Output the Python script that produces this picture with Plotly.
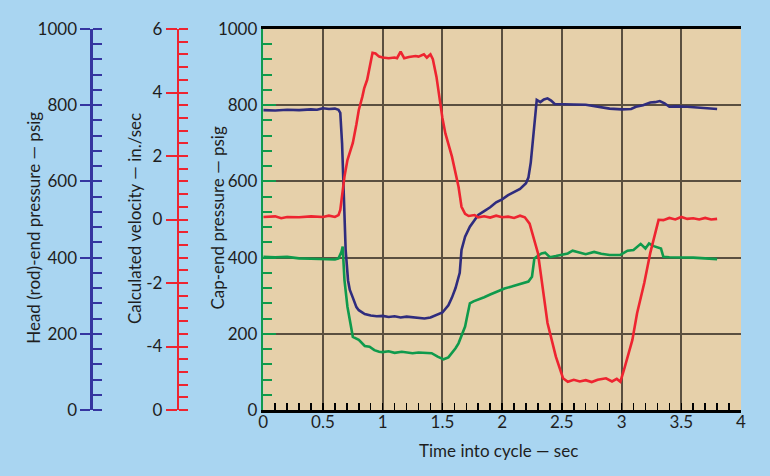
import plotly.graph_objects as go

# ---------------- data ----------------
head_t = [0, 0.1, 0.2, 0.3, 0.4, 0.45, 0.5, 0.55, 0.6, 0.63, 0.645, 0.66, 0.675, 0.69, 0.71,
          0.725, 0.75, 0.78, 0.8, 0.85, 0.9, 0.95, 1.0, 1.05, 1.1, 1.15, 1.2, 1.25, 1.3, 1.35,
          1.4, 1.45, 1.5, 1.55, 1.58, 1.61, 1.63, 1.645, 1.66, 1.69, 1.73, 1.76, 1.8, 1.85, 1.9,
          1.95, 2.0, 2.05, 2.1, 2.15, 2.2, 2.22, 2.24, 2.26, 2.28, 2.29, 2.32, 2.35, 2.38, 2.41,
          2.44, 2.5, 2.6, 2.7, 2.8, 2.9, 3.0, 3.08, 3.12, 3.18, 3.24, 3.28, 3.32, 3.36, 3.4,
          3.45, 3.55, 3.65, 3.75, 3.8]
head_p = [787, 786, 788, 787, 789, 788, 792, 790, 791, 788, 780, 700, 560, 420, 340,
          315, 295, 270, 262, 252, 248, 246, 247, 244, 246, 243, 245, 243, 241, 240,
          243, 250, 256, 275, 295, 320, 345, 360, 420, 455, 481, 495, 512, 522, 532,
          545, 553, 564, 572, 580, 595, 610, 650, 720, 790, 814, 808, 815, 818, 812,
          803, 803, 802, 801, 796, 791, 789, 790, 796, 800, 807, 808, 811, 805, 796,
          797, 796, 794, 791, 790]

vel_t = [0, 0.1, 0.15, 0.2, 0.3, 0.4, 0.5, 0.55, 0.6, 0.63, 0.645, 0.66, 0.68, 0.705, 0.75,
         0.78, 0.8, 0.83, 0.845, 0.87, 0.9, 0.915, 0.94, 0.97, 1.0, 1.05, 1.1, 1.12, 1.15, 1.18,
         1.22, 1.275, 1.3, 1.345, 1.37, 1.4, 1.42, 1.45, 1.5, 1.525, 1.58, 1.635, 1.66, 1.69,
         1.72, 1.77, 1.8, 1.85, 1.9, 1.95, 2.0, 2.05, 2.1, 2.15, 2.19, 2.23, 2.3, 2.38, 2.45,
         2.51, 2.55, 2.6, 2.65, 2.7, 2.75, 2.8, 2.87, 2.92, 2.96, 2.99, 3.02, 3.09, 3.13, 3.19,
         3.24, 3.31, 3.35, 3.4, 3.45, 3.5, 3.55, 3.6, 3.65, 3.7, 3.75, 3.8]
vel_v = [0.08, 0.1, 0.04, 0.08, 0.07, 0.1, 0.08, 0.12, 0.08, 0.14, 0.3, 0.84, 1.35, 1.87, 2.41,
         3.0, 3.45, 3.87, 4.13, 4.4, 4.9, 5.25, 5.23, 5.13, 5.1, 5.08, 5.1, 5.08, 5.29, 5.08,
         5.12, 5.15, 5.13, 5.2, 5.1, 5.2, 5.05, 4.5, 3.2, 2.71, 1.98, 1.03, 0.4, 0.18,
         0.11, 0.14, 0.07, 0.1, 0.06, 0.12, 0.07, 0.09, 0.05, 0.12, 0.07, -0.13, -1.06, -3.26, -4.32,
         -5.0, -5.11, -5.05, -5.1, -5.06, -5.12, -5.05, -5.0, -5.1, -5.02, -5.11, -4.74, -3.8, -2.95, -2.0,
         -1.06, -0.01, -0.02, 0.05, 0.0, 0.08, 0.02, 0.04, 0.0, 0.05, 0.0, 0.02]

cap_t = [0, 0.1, 0.2, 0.3, 0.4, 0.5, 0.6, 0.63, 0.655, 0.665, 0.68, 0.705, 0.73, 0.75, 0.8,
         0.85, 0.89, 0.93, 0.97, 1.0, 1.05, 1.1, 1.16, 1.2, 1.25, 1.3, 1.35, 1.41, 1.46, 1.51,
         1.55, 1.58, 1.61, 1.635, 1.66, 1.69, 1.71, 1.73, 1.76, 1.8, 1.85, 1.9, 1.95, 2.02, 2.08,
         2.14, 2.22, 2.25, 2.27, 2.3, 2.33, 2.36, 2.4, 2.45, 2.5, 2.55, 2.59, 2.65, 2.7, 2.77,
         2.83, 2.9, 2.99, 3.05, 3.1, 3.16, 3.2, 3.23, 3.27, 3.33, 3.35, 3.4, 3.49, 3.6, 3.7, 3.8]
cap_p = [402, 401, 402, 398, 397, 396, 395, 398, 415, 429, 341, 271, 225, 192, 184,
         168, 166, 157, 153, 152, 154, 150, 153, 151, 149, 151, 150, 149, 140, 133,
         138, 149, 162, 175, 195, 219, 250, 280, 285, 289, 296, 303, 310, 319, 324,
         330, 337, 350, 398, 405, 411, 413, 401, 404, 408, 411, 418, 413, 409, 415,
         410, 407, 407, 418, 420, 436, 424, 437, 430, 424, 402, 401, 401, 400, 398, 396]

x_ticks = [0, 0.5, 1, 1.5, 2, 2.5, 3, 3.5, 4]
x_labels = ["0", "0.5", "1", "1.5", "2", "2.5", "3", "3.5", "4"]
p_ticks = [0, 200, 400, 600, 800, 1000]
v_ticks = [-6, -4, -2, 0, 2, 4, 6]
v_labels = ["0", "-4", "-2", "0", "2", "4", "6"]

# ---------------- style ----------------
BG = "#a9d5f1"
PLOT = "#e6d0aa"
BLUE = "#2f2c7e"
BLUE_AX = "#3535a0"
RED = "#ee2430"
GREEN = "#0f9a4c"
GRID = "#5a4f40"
TXT = "#1e1e1e"
FONT = "Lato"
FS = 17

W, H = 770, 476
ML, MR, MT, MB = 0, 29, 29, 66
PW = W - ML - MR
x0_px = 260
head_px = 87
vel_px = 174

fig = go.Figure()
fig.add_trace(go.Scatter(x=cap_t, y=cap_p, mode="lines", yaxis="y",
                         line=dict(color=GREEN, width=2.6), name="Cap-end"))
fig.add_trace(go.Scatter(x=head_t, y=head_p, mode="lines", yaxis="y2",
                         line=dict(color=BLUE, width=2.6), name="Head-end"))
fig.add_trace(go.Scatter(x=vel_t, y=vel_v, mode="lines", yaxis="y4",
                         line=dict(color=RED, width=2.6), name="Velocity"))

tickfont = dict(family=FONT, size=FS, color=TXT)

fig.update_layout(
    width=W, height=H,
    margin=dict(l=ML, r=MR, t=MT, b=MB, pad=0),
    paper_bgcolor=BG, plot_bgcolor=PLOT,
    showlegend=False,
    font=dict(family=FONT, size=FS, color=TXT),
    xaxis=dict(domain=[x0_px / PW, 1], range=[0, 4], tickvals=x_ticks, ticktext=x_labels,
               showgrid=True, gridcolor=GRID, gridwidth=2, zeroline=False,
               ticks="inside", ticklen=7, tickcolor="black", tickwidth=1.5,
               minor=dict(dtick=0.1, ticks="inside", ticklen=7, tickcolor="black",
                          tickwidth=1.5, showgrid=False),
               showline=True, linecolor="black", linewidth=3, mirror=True,
               ticklabelstandoff=-5,
               tickfont=tickfont, fixedrange=True),
    yaxis=dict(range=[0, 1000], tickvals=p_ticks, showgrid=True, gridcolor=GRID,
               gridwidth=2, zeroline=False, ticks="inside", ticklen=13, tickcolor=GREEN,
               tickwidth=2,
               minor=dict(dtick=40, tick0=0, ticks="inside", ticklen=9, tickcolor=GREEN,
                          tickwidth=2, showgrid=False),
               showline=True, linecolor=GREEN, linewidth=2.5, tickfont=tickfont),
    yaxis2=dict(overlaying="y", anchor="free", position=head_px / PW, side="left",
                range=[0, 1000], tickvals=p_ticks, showgrid=False, zeroline=False,
                ticks="outside", ticklen=10, tickcolor=BLUE_AX, tickwidth=2,
                minor=dict(dtick=40, tick0=0, ticks="inside", ticklen=9,
                           tickcolor=BLUE_AX, tickwidth=2),
                showline=True, linecolor=BLUE_AX, linewidth=2.5, tickfont=tickfont),
    yaxis3=dict(overlaying="y", anchor="free", position=head_px / PW, side="left",
                range=[0, 1000], tickvals=p_ticks, showgrid=False, zeroline=False,
                ticks="inside", ticklen=13, tickcolor=BLUE_AX, tickwidth=2,
                showticklabels=False, showline=False),
    yaxis4=dict(overlaying="y", anchor="free", position=vel_px / PW, side="left",
                range=[-6, 6], tickvals=v_ticks, ticktext=v_labels, showgrid=False,
                zeroline=False, ticks="outside", ticklen=11, tickcolor=RED, tickwidth=2,
                minor=dict(dtick=0.4, tick0=-6, ticks="inside", ticklen=9,
                           tickcolor=RED, tickwidth=2),
                showline=True, linecolor=RED, linewidth=2.5, tickfont=tickfont),
    yaxis5=dict(overlaying="y", anchor="free", position=vel_px / PW, side="left",
                range=[-6, 6], tickvals=v_ticks[1:], showgrid=False, zeroline=False,
                ticks="inside", ticklen=13, tickcolor=RED, tickwidth=2,
                showticklabels=False, showline=False),
    yaxis7=dict(overlaying="y", anchor="free", position=vel_px / PW, side="left",
                range=[-6, 6], tickvals=v_ticks[:1], showgrid=False, zeroline=False,
                ticks="inside", ticklen=13, tickcolor=BLUE_AX, tickwidth=2,
                showticklabels=False, showline=False),
    yaxis6=dict(overlaying="y", anchor="x", side="right", range=[0, 1000],
                showgrid=False, zeroline=False, ticks="", showticklabels=False,
                showline=True, linecolor="black", linewidth=3),
)

def ypaper(py):
    return (H - MB - py) / (H - MT - MB)

titles = [
    ("Head (rod)-end pressure — psig", 28, 228, -90),
    ("Calculated velocity — in./sec", 130, 219, -90),
    ("Cap-end pressure — psig", 213, 218, -90),
    ("Time into cycle — sec", 497, 450, 0),
]
for text, px, py, ang in titles:
    fig.add_annotation(text=text, xref="paper", yref="paper", x=px / PW, y=ypaper(py),
                       showarrow=False, textangle=ang, xanchor="center", yanchor="middle",
                       font=dict(family=FONT, size=FS, color=TXT))

fig.write_html(
    "out.html",
    config={"displayModeBar": False, "staticPlot": True},
    post_script="document.body.style.margin='0';document.body.style.padding='0';"
                "document.body.style.background='" + BG + "';",
)
